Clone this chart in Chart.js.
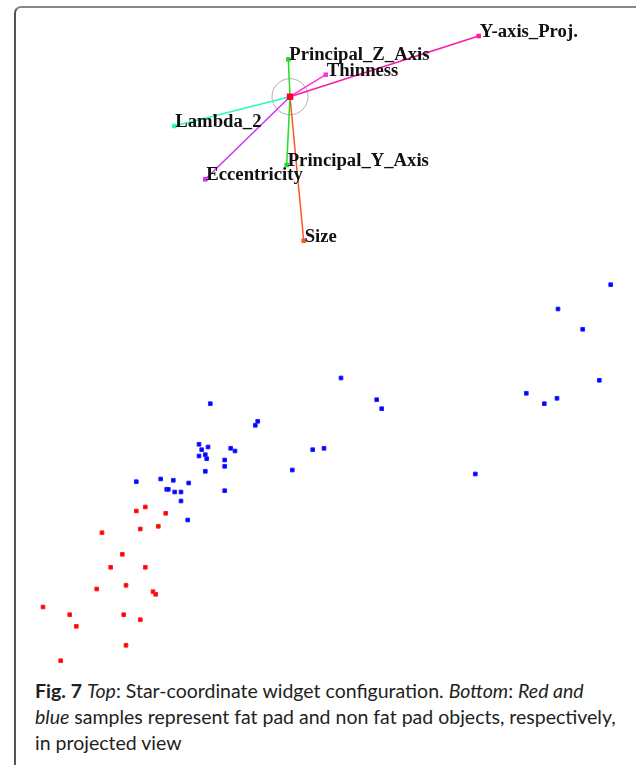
<!DOCTYPE html>
<html>
<head>
<meta charset="utf-8">
<script src="https://cdn.jsdelivr.net/npm/chart.js@4"></script>
<style>
  html, body { margin: 0; padding: 0; background: #fff; }
  body { width: 636px; height: 765px; position: relative; overflow: hidden; }
  #frame {
    position: absolute; left: 14px; top: 6px; width: 640px; height: 780px;
    border-left: 2px solid #555; border-top: 2px solid #888;
    border-top-left-radius: 7px; box-sizing: border-box;
  }
  #wrap { position: absolute; left: 0; top: 0; width: 636px; height: 665px; }
  #caption {
    position: absolute; left: 35px; top: 678px; white-space: nowrap;
    font-family: Lato, "Open Sans", sans-serif; font-size: 19.5px; line-height: 26px;
    color: #231f20;
  }
  #caption b { font-weight: 700; }
</style>
</head>
<body>
<div id="frame"></div>
<div id="wrap"><canvas id="myChart" width="636" height="665"></canvas></div>
<div id="caption">
  <b>Fig. 7</b> <i>Top</i>: Star-coordinate widget configuration. <i>Bottom</i>: <i>Red and</i><br>
  <i>blue</i> samples represent fat pad and non fat pad objects, respectively,<br>
  in projected view
</div>
<script>
// projected view coordinates
const fatPadX = [136.3, 145.3, 165.7, 102, 140.3, 158.3, 122.3, 110.7, 145.3, 96.7, 126, 153, 155.7, 43, 69.7, 76.3, 123.7, 140.3, 126, 60.7];
const fatPadY = [154, 158, 151.7, 132.3, 136, 138.7, 110.7, 97.7, 97.7, 76, 79.7, 73.3, 70.7, 58, 50.3, 38.7, 50.3, 45.3, 19.7, 4.3];

const nonFatPadX = [341, 210.3, 376.7, 381.7, 257.7, 255.3, 199, 208, 201.7, 230.7, 235, 312.7, 324, 199, 205.3, 206.7, 224.7, 224.7, 205.3, 292.3,
  160.7, 173.3, 188.7, 224.7, 166.7, 168.3, 174.7, 181, 181, 187.7, 136.3, 610.7, 558, 582.7, 599.3, 526.3, 544.3, 557, 475.3];
const nonFatPadY = [287, 261.3, 265.3, 256.3, 243.7, 239.7, 220.7, 218, 215.3, 216.7, 214, 215.3, 216.7, 209, 210.3, 206.3, 205, 198.7, 193.7, 195,
  186, 184.7, 182, 174.3, 175.7, 175.7, 173, 173, 164, 145, 183.3, 380.3, 356, 335.7, 284.7, 271.7, 261.3, 266.7, 191];

// star-coordinate widget
const widgetCenter = [290, 568.3];
const axisNames = ["Principal_Z_Axis", "Thinness", "Y-axis_Proj.", "Lambda_2", "Eccentricity", "Principal_Y_Axis", "Size"];
const axisEndX = [288.3, 325.7, 478.7, 174.3, 205.3, 286.7, 303.7];
const axisEndY = [605.7, 590.3, 629, 539, 485.7, 500, 424.3];
const axisColors = ["#22dd22", "#ff33dd", "#ff1aa3", "#33f5c0", "#cc33ff", "#22dd22", "#ff5522"];

const axisDatasets = axisNames.map((name, i) => ({
  label: name,
  data: [{ x: widgetCenter[0], y: widgetCenter[1] }, { x: axisEndX[i], y: axisEndY[i] }],
  showLine: true,
  borderColor: axisColors[i],
  borderWidth: 1.5,
  pointStyle: "rect",
  pointRadius: [0, 3.2],
  pointBackgroundColor: axisColors[i],
  pointBorderWidth: 0,
  order: 1,
}));

const axisLabels = {
  id: "axisLabels",
  afterDatasetsDraw(chart) {
    const { ctx, scales } = chart;
    ctx.save();
    ctx.font = "bold 18.7px 'Liberation Serif', serif";
    ctx.fillStyle = "#111";
    ctx.textBaseline = "alphabetic";
    axisNames.forEach((name, i) => {
      const px = scales.x.getPixelForValue(axisEndX[i]);
      const py = scales.y.getPixelForValue(axisEndY[i]);
      ctx.fillText(name, px + 1, py + 1);
    });
    ctx.restore();
  },
};

const chart = new Chart(document.getElementById("myChart"), {
  type: "scatter",
  plugins: [axisLabels],
  options: {
    responsive: false,
    animation: false,
    layout: { padding: 0, autoPadding: false },
    scales: {
      x: { type: "linear", min: 0, max: 636, display: false },
      y: { type: "linear", min: 0, max: 665, display: false },
    },
    plugins: {
      legend: { display: false },
      tooltip: { enabled: false },
    },
  },
  data: {
    datasets: [
      {
        label: "Fat pad",
        data: fatPadX.map((x, i) => ({ x, y: fatPadY[i] })),
        pointStyle: "rect",
        pointRadius: 2.6,
        pointBorderWidth: 1,
        backgroundColor: "#ff0000",
        borderColor: "#ff2222",
        order: 2,
      },
      {
        label: "Non fat pad",
        data: nonFatPadX.map((x, i) => ({ x, y: nonFatPadY[i] })),
        pointStyle: "rect",
        pointRadius: 2.6,
        pointBorderWidth: 1,
        backgroundColor: "#0000ff",
        borderColor: "#2222ff",
        order: 2,
      },
      ...axisDatasets,
      {
        label: "Widget ring",
        data: [{ x: widgetCenter[0], y: widgetCenter[1] }],
        pointStyle: "circle",
        pointRadius: 18,
        pointBorderWidth: 1,
        borderColor: "#b0b0b0",
        backgroundColor: "rgba(0,0,0,0)",
        order: 3,
      },
      {
        label: "Widget center",
        data: [{ x: widgetCenter[0], y: widgetCenter[1] }],
        pointStyle: "rect",
        pointRadius: 4.6,
        pointBorderWidth: 0,
        backgroundColor: "#ff0033",
        order: 0,
      },
    ],
  },
});
</script>
</body>
</html>
